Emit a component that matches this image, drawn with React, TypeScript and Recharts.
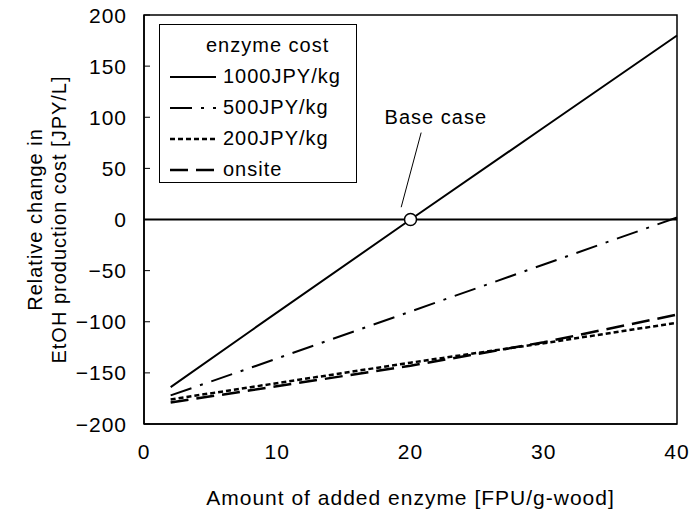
import React from 'react';
import {
  LineChart, Line, XAxis, YAxis, ReferenceLine, ReferenceArea, ReferenceDot, Legend,
} from 'recharts';

// amount of added enzyme [FPU/g-wood]
const X_VALUES = [2, 8, 20, 30, 40];

// relative change in EtOH production cost [JPY/L]
const COST_1000 = [-164, -109, 0, 90, 180];
const COST_500 = [-172, -145, -90, -44, 2];
const COST_200 = [-176, -164, -140, -121, -101];
const COST_ONSITE = [-179, -167, -143, -120, -93];

const X_TICKS = [0, 10, 20, 30, 40];
const Y_TICKS = [-200, -150, -100, -50, 0, 50, 100, 150, 200];

const SERIES = [
  { key: 'c1000', name: '1000JPY/kg', values: COST_1000, dash: undefined, width: 2 },
  { key: 'c500', name: '500JPY/kg', values: COST_500, dash: '22 9 3 9', width: 2 },
  { key: 'c200', name: '200JPY/kg', values: COST_200, dash: '5 3', width: 2.5 },
  { key: 'onsite', name: 'onsite', values: COST_ONSITE, dash: '18 8', width: 2.5 },
];

const data = X_VALUES.map((x, i) => {
  const row: any = { x };
  SERIES.forEach((s) => (row[s.key] = s.values[i]));
  return row;
});

const FONT = '"Liberation Sans", Arial, sans-serif';
const fmt = (v: number) => String(v).replace('-', '\u2212');

const YTick = (props: any) => {
  const { x, y, payload } = props;
  return (
    <g>
      <line x1={x + 17} x2={x + 23} y1={y} y2={y} stroke="#000" strokeWidth={1} />
      <text x={x} y={y} dy="0.36em" textAnchor="end" fill="#000" fontSize={21} letterSpacing={1} fontFamily={FONT}>
        {fmt(payload.value)}
      </text>
    </g>
  );
};

const YLabel = (props: any) => {
  const { viewBox } = props;
  const cy = viewBox.y + viewBox.height / 2;
  return (
    <g fontFamily={FONT} fontSize={20} letterSpacing={1} fill="#000">
      <text x={35} y={cy} textAnchor="middle" dominantBaseline="central" transform={`rotate(-90 35 ${cy})`}>
        Relative change in
      </text>
      <text x={59} y={cy} textAnchor="middle" dominantBaseline="central" transform={`rotate(-90 59 ${cy})`}>
        EtOH production cost [JPY/L]
      </text>
    </g>
  );
};

const LegendBox = () => (
  <div
    style={{
      border: '1.5px solid #000', background: '#fff', width: 198, height: 159,
      fontFamily: FONT, fontSize: 20, letterSpacing: 1, color: '#000', boxSizing: 'border-box', padding: '5px 0 0 8px',
    }}
  >
    <div style={{ paddingLeft: 38, height: 31, lineHeight: '31px' }}>enzyme cost</div>
    {SERIES.map((s) => (
      <div key={s.key} style={{ display: 'flex', alignItems: 'center', height: 31 }}>
        <svg width={50} height={6} style={{ marginRight: 5 }}>
          <line x1={2} x2={48} y1={3} y2={3} stroke="#000" strokeWidth={s.width} strokeDasharray={s.dash} />
        </svg>
        <span>{s.name}</span>
      </div>
    ))}
  </div>
);

export default function App() {
  return (
    <div style={{ position: 'absolute', left: 0, top: 0, background: '#fff' }}>
      <LineChart width={691} height={509} data={data} margin={{ top: 15, right: 14, bottom: 0, left: 0 }}>
        <XAxis
          dataKey="x"
          type="number"
          domain={[0, 40]}
          ticks={X_TICKS}
          height={85}
          tickSize={0}
          tickMargin={20}
          tickLine={false}
          axisLine={{ stroke: '#000', strokeWidth: 1.5 }}
          tick={{ fill: '#000', fontSize: 21, letterSpacing: 1, fontFamily: FONT }}
          label={{
            value: 'Amount of added enzyme [FPU/g-wood]', position: 'insideBottom', offset: 4,
            fill: '#000', fontSize: 21, letterSpacing: 1, fontFamily: FONT,
          }}
        />
        <YAxis
          type="number"
          domain={[-200, 200]}
          ticks={Y_TICKS}
          width={144}
          tickSize={0}
          tickMargin={17}
          tickLine={false}
          axisLine={{ stroke: '#000', strokeWidth: 1.5 }}
          tick={<YTick />}
          label={<YLabel />}
        />
        <ReferenceArea x1={0} x2={40} y1={-200} y2={200} fill="none" stroke="#000" strokeWidth={1.5} ifOverflow="visible" />
        <ReferenceLine y={0} stroke="#000" strokeWidth={2} />
        {SERIES.map((s) => (
          <Line
            key={s.key}
            dataKey={s.key}
            name={s.name}
            type="linear"
            stroke="#000"
            strokeWidth={s.width}
            strokeDasharray={s.dash}
            dot={false}
            activeDot={false}
            isAnimationActive={false}
          />
        ))}
        <ReferenceLine
          segment={[{ x: 20.8, y: 85 }, { x: 19.3, y: 12 }]}
          stroke="#000"
          strokeWidth={1}
          ifOverflow="visible"
        />
        <ReferenceDot x={20} y={0} r={6} fill="#fff" stroke="#000" strokeWidth={1.5} />
        <ReferenceDot
          x={21.9}
          y={100}
          r={0}
          label={{ value: 'Base case', position: 'center', fill: '#000', fontSize: 20, letterSpacing: 1, fontFamily: FONT }}
        />
        <Legend
          layout="vertical"
          align="center"
          verticalAlign="middle"
          content={<LegendBox />}
          wrapperStyle={{ left: 159, top: 24, width: 198, height: 159 }}
        />
      </LineChart>
    </div>
  );
}
